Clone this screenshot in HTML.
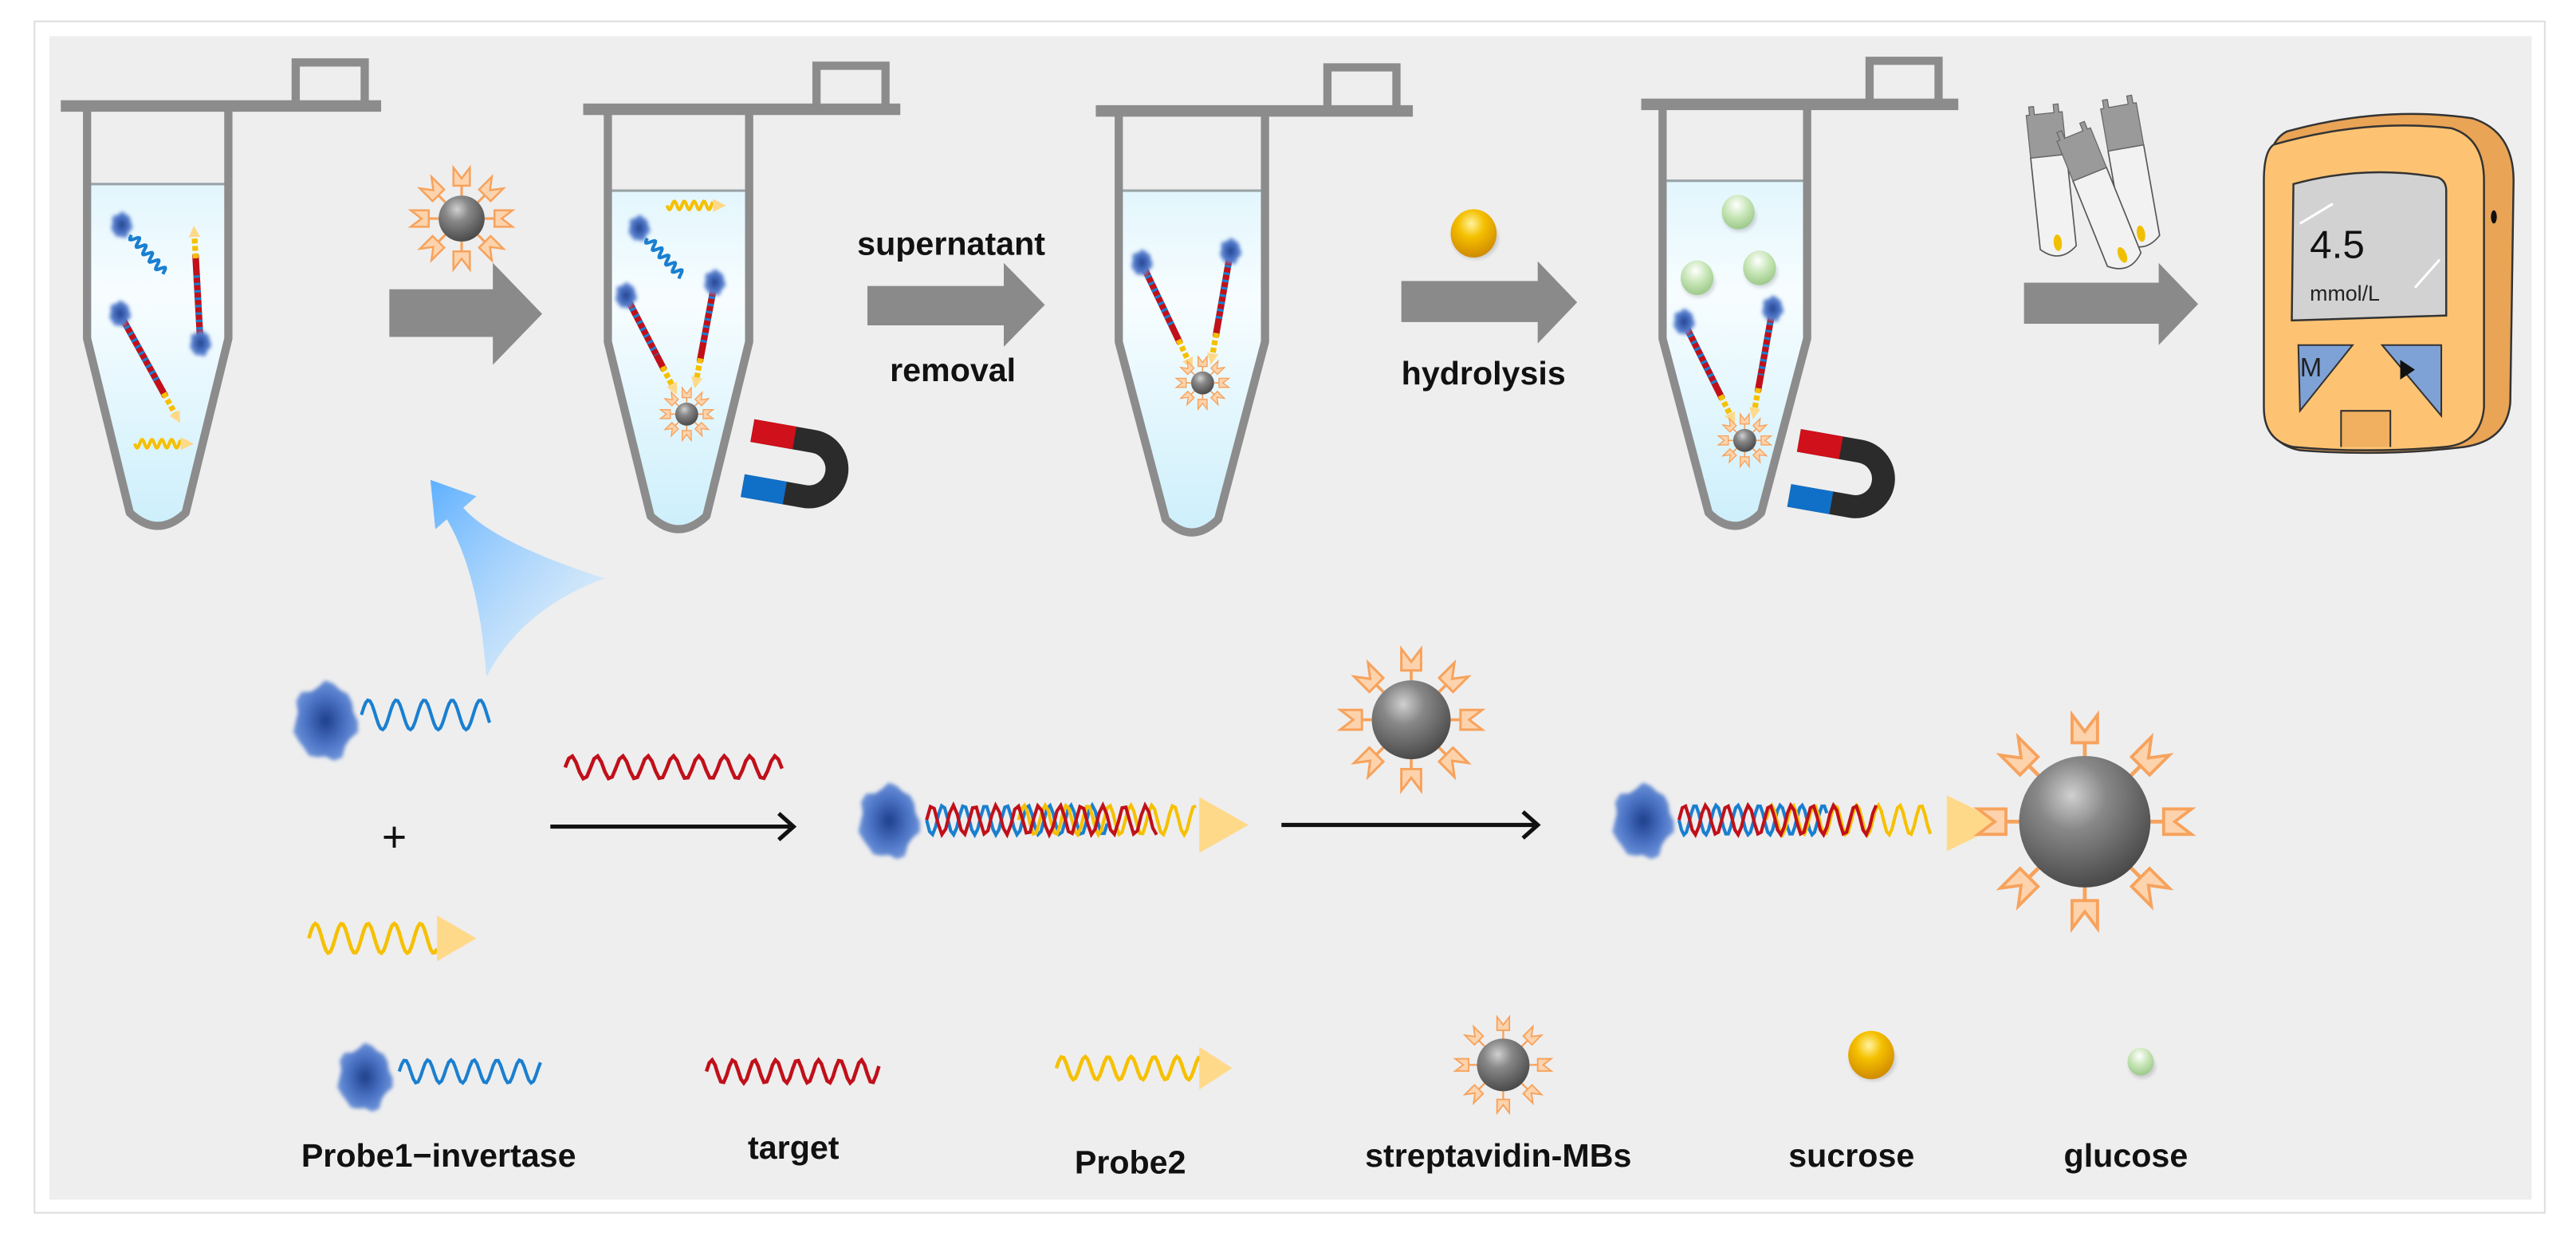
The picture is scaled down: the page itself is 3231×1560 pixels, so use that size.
<!DOCTYPE html>
<html><head><meta charset="utf-8"><style>
html,body{margin:0;padding:0;background:#fff;}
svg{display:block;}
text{font-family:"Liberation Sans",Arial,sans-serif;}
</style></head><body>
<svg id="s" xmlns="http://www.w3.org/2000/svg" width="3231" height="1560" viewBox="0 0 1568 757" preserveAspectRatio="none">
<defs>
<linearGradient id="liq" x1="0" y1="0" x2="0" y2="1">
<stop offset="0" stop-color="#d4f1fb"/><stop offset="0.45" stop-color="#f7fdff"/><stop offset="1" stop-color="#cdeffb"/></linearGradient>
<radialGradient id="bead" cx="0.4" cy="0.3" r="0.75">
<stop offset="0" stop-color="#d0d0d0"/><stop offset="0.35" stop-color="#888"/><stop offset="1" stop-color="#444"/></radialGradient>
<radialGradient id="suc" cx="0.45" cy="0.3" r="0.7">
<stop offset="0" stop-color="#fff3a0"/><stop offset="0.4" stop-color="#f5c000"/><stop offset="1" stop-color="#d08a00"/></radialGradient>
<radialGradient id="glu" cx="0.45" cy="0.3" r="0.7">
<stop offset="0" stop-color="#ffffff"/><stop offset="0.5" stop-color="#c8e6b8"/><stop offset="1" stop-color="#9cc98a"/></radialGradient>
<radialGradient id="blob" cx="0.5" cy="0.5" r="0.5">
<stop offset="0" stop-color="#1f3f8a"/><stop offset="0.6" stop-color="#4a72c4"/><stop offset="1" stop-color="#6c92d8"/></radialGradient>
<linearGradient id="barr" x1="0" y1="0" x2="1" y2="1">
<stop offset="0" stop-color="#5fb0ff"/><stop offset="1" stop-color="#eaf7ff" stop-opacity="0.6"/></linearGradient>
<filter id="bl" x="-30%" y="-30%" width="160%" height="160%"><feGaussianBlur stdDeviation="1.2"/></filter>
</defs>
<rect x="0" y="0" width="1568" height="757" fill="#fff"/>
<rect x="21" y="13" width="1528" height="725" fill="#fff" stroke="#dedede" stroke-width="1"/>
<rect x="30" y="22" width="1511" height="708" fill="#eeeeee"/>
<g id="g"></g>
<g font-weight="bold" fill="#111" font-size="20">
<text x="579" y="155" text-anchor="middle">supernatant</text>
<text x="580" y="232" text-anchor="middle">removal</text>
<text x="903" y="234" text-anchor="middle">hydrolysis</text>
<text x="267" y="710" text-anchor="middle">Probe1−invertase</text>
<text x="483" y="705" text-anchor="middle">target</text>
<text x="688" y="714" text-anchor="middle">Probe2</text>
<text x="912" y="710" text-anchor="middle">streptavidin-MBs</text>
<text x="1127" y="710" text-anchor="middle">sucrose</text>
<text x="1294" y="710" text-anchor="middle">glucose</text>
</g>
<text x="240" y="518" font-size="26" text-anchor="middle" fill="#111">+</text>
</svg>
<script>
var G=document.getElementById('g'),NS='http://www.w3.org/2000/svg';
function el(t,a,p){var e=document.createElementNS(NS,t);for(var k in a)e.setAttribute(k,a[k]);(p||G).appendChild(e);return e;}
function grp(tr){return el('g',{transform:tr||''});}
function wavePath(len,amp,per,ph){var d='';for(var i=0;i<=60;i++){var x=len*i/60;var y=amp*Math.sin(2*Math.PI*x/per+(ph||0));d+=(i?'L':'M')+x.toFixed(2)+','+y.toFixed(2);}return d;}
function wave(p,x,y,len,amp,per,col,w,ph){el('path',{d:wavePath(len,amp,per,ph),transform:'translate('+x+','+y+')',fill:'none',stroke:col,'stroke-width':w||2},p);}
function blobAt(p,x,y,r){var g=el('g',{filter:'url(#bl)'},p);var d='';for(var i=0;i<=24;i++){var a=i/24*Math.PI*2;var rr=r*(1+0.08*Math.sin(a*7)+0.05*Math.cos(a*5));d+=(i?'L':'M')+(x+rr*Math.cos(a)*0.9).toFixed(2)+','+(y+rr*Math.sin(a)*1.1).toFixed(2);}el('path',{d:d+'Z',fill:'url(#blob)'},g);}
function tri(p,x,y,h,w,col){el('path',{d:'M'+x+','+(y-w)+'L'+(x+h)+','+y+'L'+x+','+(y+w)+'Z',fill:col||'#ffd98a'},p);}
function bead(p,x,y,r,L,s){var g=el('g',{transform:'translate('+x+','+y+')'},p);
for(var i=0;i<8;i++){var a=i*45;var h=el('g',{transform:'rotate('+a+')'},g);
el('line',{x1:0,y1:r,x2:0,y2:r+L,stroke:'#f7a25c','stroke-width':1.5*s},h);
var w=5*s,hh=11*s,b=r+L;
el('path',{d:'M'+(-w)+','+b+'L'+w+','+b+'L'+w+','+(b+hh)+'L0,'+(b+hh*0.4)+'L'+(-w)+','+(b+hh)+'Z',fill:'#fcd3ac',stroke:'#f7a25c','stroke-width':1.2*s},h);}
el('circle',{cx:0,cy:0,r:r,fill:'url(#bead)'},g);}
function ball(p,x,y,r,f){el('ellipse',{cx:x+1,cy:y+3,rx:r,ry:r*0.9,fill:'#000',opacity:0.15,filter:'url(#bl)'},p);el('ellipse',{cx:x,cy:y,rx:r,ry:r*1.05,fill:'url(#'+f+')'},p);}
function tube(xl,xr,cap,barL,barR,tab,se,bot,bh,liq){var cx=(xl+xr)/2;
var d='M'+xl+','+cap+'L'+xl+','+se+'L'+(cx-bh)+','+(bot-10)+'Q'+cx+','+(bot+6)+' '+(cx+bh)+','+(bot-10)+'L'+xr+','+se+'L'+xr+','+cap;
var cid='c'+xl;var cp=el('clipPath',{id:cid});el('rect',{x:xl-5,y:liq,width:xr-xl+10,height:400},cp);
el('path',{d:d+'Z',fill:'url(#liq)','clip-path':'url(#'+cid+')'});
el('line',{x1:xl,y1:liq,x2:xr,y2:liq,stroke:'#9aa3a8','stroke-width':1.5});
el('path',{d:d,fill:'none',stroke:'#8c8c8c','stroke-width':5,'stroke-linejoin':'round'});
el('rect',{x:barL,y:cap-4,width:barR-barL,height:7,fill:'#8c8c8c'});
el('path',{d:'M'+tab+','+(cap-2)+'L'+tab+','+(cap-27)+'L'+(tab+42)+','+(cap-27)+'L'+(tab+42)+','+(cap-2),fill:'none',stroke:'#8c8c8c','stroke-width':5});}
function cplx(x1,y1,x2,y2,blob){var dx=x2-x1,dy=y2-y1,L=Math.sqrt(dx*dx+dy*dy),a=Math.atan2(dy,dx)*180/Math.PI;
var g=grp('translate('+x1+','+y1+') rotate('+a+')');
el('line',{x1:4,y1:0,x2:L*0.75,y2:0,stroke:'#c0101a','stroke-width':4},g);
el('line',{x1:4,y1:0,x2:L*0.6,y2:0,stroke:'#1a7fd0','stroke-width':4,'stroke-dasharray':'1.5 3'},g);
el('line',{x1:L*0.72,y1:0,x2:L*0.92,y2:0,stroke:'#f6c000','stroke-width':3.5,'stroke-dasharray':'3 1.5'},g);
tri(g,L*0.9,0,7,3.5);
if(blob)blobAt(G,x1,y1,7);}
function strandWave(x1,y1,x2,y2,col,amp,per){var dx=x2-x1,dy=y2-y1,L=Math.sqrt(dx*dx+dy*dy),a=Math.atan2(dy,dx)*180/Math.PI;var g=grp('translate('+x1+','+y1+') rotate('+a+')');wave(g,0,0,L,amp,per,col,2);return {g:g,L:L};}
function magnet(x,y){var g=grp('translate('+x+','+y+') rotate(10)');
el('path',{d:'M0,0 L38,0 A17,17 0 0 1 38,34 L0,34',fill:'none',stroke:'#2b2b2b','stroke-width':14},g);
el('line',{x1:0,y1:0,x2:26,y2:0,stroke:'#d0101a','stroke-width':14},g);
el('line',{x1:0,y1:34,x2:26,y2:34,stroke:'#1070c8','stroke-width':14},g);}
function garrow(x1,x2,tip,y1,y2,hy1,hy2){el('path',{d:'M'+x1+','+y1+'L'+x2+','+y1+'L'+x2+','+hy1+'L'+tip+','+((hy1+hy2)/2)+'L'+x2+','+hy2+'L'+x2+','+y2+'L'+x1+','+y2+'Z',fill:'#8a8a8a'});}
function karrow(x1,x2,y){el('line',{x1:x1,y1:y,x2:x2-2,y2:y,stroke:'#111','stroke-width':2.5});el('path',{d:'M'+(x2-9)+','+(y-8)+'L'+x2+','+y+'L'+(x2-9)+','+(y+8),fill:'none',stroke:'#111','stroke-width':2.5});}

tube(53,139,65,37,232,180,206,322,17,112);
tube(370,456,67,355,548,497,208,324,17,116);
tube(681,770,68,667,860,808,208,326,16,116);
tube(1012,1100,64,999,1192,1138,206,322,16,110);
blobAt(G,74,137,7);strandWave(80,143,100,166,'#1a7fd0',2.5,6);
cplx(122,209,118,137,true);cplx(73,191,110,258,true);
wave(G,82,270,28,2.5,6,'#f6c000',2);tri(G,110,270,8,4);
wave(G,406,125,28,2.5,6,'#f6c000',2);tri(G,434,125,8,4);
blobAt(G,389,139,7);strandWave(394,145,415,168,'#1a7fd0',2.5,6);
cplx(381,180,412,240,true);cplx(435,172,423,236,true);
bead(G,418,252,7,3,0.55);
magnet(458,262);
cplx(695,160,726,225,true);cplx(749,153,737,222,true);bead(G,732,233,7,3,0.55);
ball(G,1058,129,10,'glu');ball(G,1033,169,10,'glu');ball(G,1071,163,10,'glu');
cplx(1025,196,1056,258,true);cplx(1079,188,1067,255,true);bead(G,1062,268,7,3,0.55);
magnet(1095,268);
garrow(237,300,330,176,205,160,222);
garrow(528,611,636,174,198,160,211);
garrow(853,936,960,171,196,159,209);
garrow(1232,1314,1338,172,197,160,210);
bead(G,281,133,14,6,1.0);
ball(G,897,142,14,'suc');
function strip(x,y,a){var g=grp('translate('+x+','+y+') rotate('+a+')');
el('path',{d:'M-11,0 L11,0 L11,56 Q0,66 -11,56 Z',fill:'#f2f2f2',stroke:'#555','stroke-width':0.8},g);
el('path',{d:'M-11,-26 L-9,-26 L-9,-31 L-6,-31 L-6,-26 L6,-26 L6,-31 L9,-31 L9,-26 L11,-26 L11,0 L-11,0 Z',fill:'#9a9a9a',stroke:'#666','stroke-width':0.6},g);
el('ellipse',{cx:0,cy:53,rx:2.5,ry:5,fill:'#f0c000'},g);}
strip(1247,95,-6);strip(1294,90,-10);strip(1272,106,-22);
el('path',{d:'M1392,80 Q1450,64 1505,72 Q1530,80 1530,110 L1528,245 Q1526,268 1500,272 Q1450,278 1400,274 Q1380,270 1380,250 L1380,110 Q1380,86 1392,80Z',fill:'#e9a456',stroke:'#333','stroke-width':1.2});
el('path',{d:'M1384,88 Q1440,72 1492,78 Q1512,84 1512,110 L1512,248 Q1510,270 1488,272 Q1440,276 1396,272 Q1378,268 1378,248 L1378,110 Q1378,92 1384,88Z',fill:'#fdc373',stroke:'#333','stroke-width':1.2});
el('path',{d:'M1396,112 Q1440,100 1484,108 Q1489,110 1489,116 L1489,192 L1395,195 Z',fill:'#d2d2d2',stroke:'#333','stroke-width':1.2});
el('line',{x1:1400,y1:136,x2:1420,y2:124,stroke:'#fff','stroke-width':1.5});
el('line',{x1:1470,y1:175,x2:1485,y2:158,stroke:'#fff','stroke-width':1.5});
el('ellipse',{cx:1518,cy:132,rx:1.8,ry:4,fill:'#111'});
el('path',{d:'M1399,210 L1432,210 L1400,250 Z',fill:'#7fa2d6',stroke:'#333','stroke-width':1});
el('path',{d:'M1450,210 L1486,210 L1486,253 Z',fill:'#7fa2d6',stroke:'#333','stroke-width':1});
el('path',{d:'M1461,219 L1470,225 L1461,231Z',fill:'#111'});
el('path',{d:'M1425,272 L1425,250 L1455,250 L1455,272',fill:'#f0b060',stroke:'#333','stroke-width':1});
var t=el('text',{x:1400,y:229,'font-size':16,fill:'#222'});t.textContent='M';
t=el('text',{x:1406,y:157,'font-size':24,fill:'#111'});t.textContent='4.5';
t=el('text',{x:1406,y:183,'font-size':13,fill:'#222'});t.textContent='mmol/L';
el('path',{d:'M262,292 L290,302 L282,309 Q300,330 368,352 Q318,370 296,412 Q292,350 272,316 L265,322 Z',fill:'url(#barr)'});
blobAt(G,198,439,21);wave(G,220,435,78,9,17,'#1a7fd0',2,Math.PI);
wave(G,188,571,78,9,16,'#f6c000',2.2,Math.PI);tri(G,266,571,24,14);
wave(G,344,467,132,7,15.5,'#c0101a',2.2,Math.PI);
karrow(335,483,503);
blobAt(G,541,500,20);
wave(G,564,499,110,9,13,'#1a7fd0',2,0);wave(G,620,499,108,9,13,'#f6c000',2,Math.PI);wave(G,564,499,140,9,13,'#c0101a',2,Math.PI);
tri(G,730,502,30,17);
karrow(780,936,502);
bead(G,859,438,24,6,1.2);
blobAt(G,1000,500,20);
wave(G,1022,499,90,9,13,'#1a7fd0',2,0);wave(G,1075,499,100,9,13,'#f6c000',2,Math.PI);wave(G,1022,499,120,9,13,'#c0101a',2,Math.PI);
tri(G,1185,501,35,17);
bead(G,1269,500,40,8,1.55);
blobAt(G,222,656,18);wave(G,243,652,86,7,14,'#1a7fd0',2,Math.PI);
wave(G,430,652,105,7,13,'#c0101a',2.2,Math.PI);
wave(G,643,650,88,7,14,'#f6c000',2.2,Math.PI);tri(G,730,650,20,13);
bead(G,915,648,16,5,0.75);
ball(G,1139,642,14,'suc');ball(G,1303,646,8,'glu');
</script>
</body></html>
